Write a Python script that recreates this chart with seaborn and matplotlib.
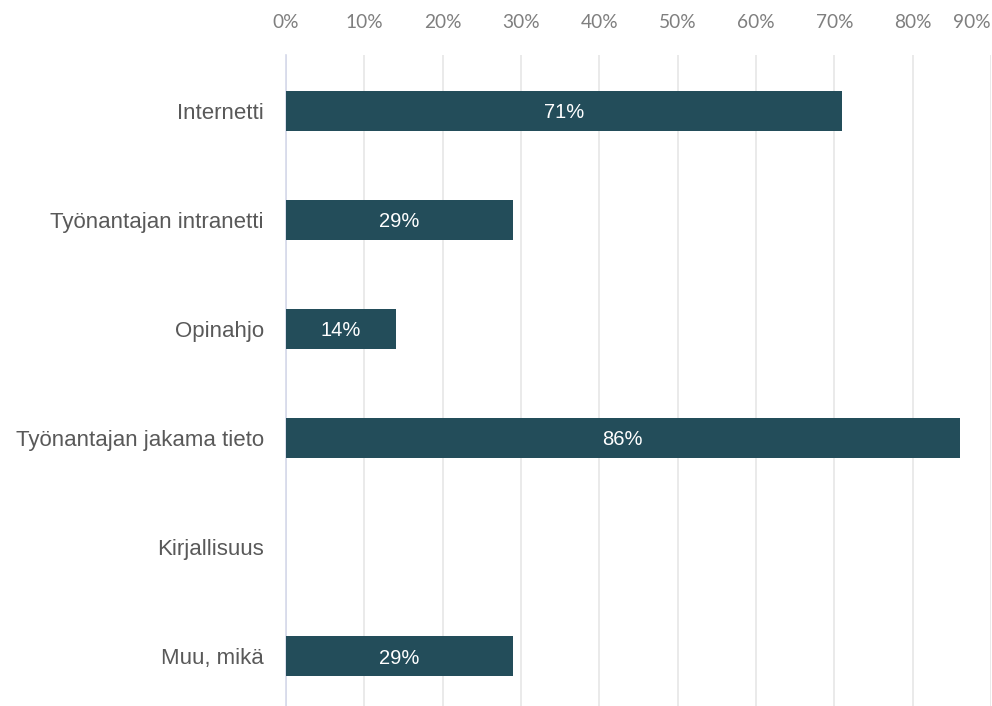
import pandas as pd
import seaborn as sns
import matplotlib.pyplot as plt
import numpy as np

# data
categories = [
    "Internetti",
    "Työnantajan intranetti",
    "Opinahjo",
    "Työnantajan jakama tieto",
    "Kirjallisuus",
    "Muu, mikä",
]
values = [71, 29, 14, 86, 0, 29]
x_ticks = [0, 10, 20, 30, 40, 50, 60, 70, 80, 90]
x_tick_labels = [f"{t}%" for t in x_ticks]

df = pd.DataFrame({"category": categories, "value": values})

sns.set_style("white")
plt.rcParams["font.family"] = ["Liberation Sans", "DejaVu Sans"]

fig = plt.figure(figsize=(9.92, 7.06), dpi=100)
ax = fig.add_axes([286 / 992, 0, 705 / 992, 651 / 706])

sns.barplot(
    data=df,
    x="value",
    y="category",
    orient="h",
    color="#234d5a",
    saturation=1,
    width=0.367,
    linewidth=0,
    ax=ax,
    zorder=3,
)

ax.set_xlim(0, 90)
ax.set_ylim(5.46, -0.51)

# gridlines and top axis
ax.set_xticks(x_ticks)
ax.grid(axis="x", color="#e6e6e6", linewidth=1.2, zorder=0)
ax.xaxis.tick_top()
ax.set_xticklabels(x_tick_labels, fontfamily="Lato", fontsize=13.8, color="#7f7f7f")
ax.tick_params(axis="x", length=0, pad=17)
ax.get_xticklabels()[-1].set_horizontalalignment("right")

ax.tick_params(axis="y", length=0, pad=16)
for lbl in ax.get_yticklabels():
    lbl.set_fontsize(16)
    lbl.set_color("#595959")

for s in ["top", "right", "bottom"]:
    ax.spines[s].set_visible(False)
ax.spines["left"].set_color("#d5d9ea")
ax.spines["left"].set_linewidth(1.2)

ax.set_xlabel("")
ax.set_ylabel("")

# value labels inside bars
for i, v in enumerate(values):
    if v > 0:
        ax.text(v / 2, i + 0.02, f"{v}%", ha="center", va="center",
                color="white", fontsize=14.5, zorder=4)

fig.savefig("out.png", dpi=100)
